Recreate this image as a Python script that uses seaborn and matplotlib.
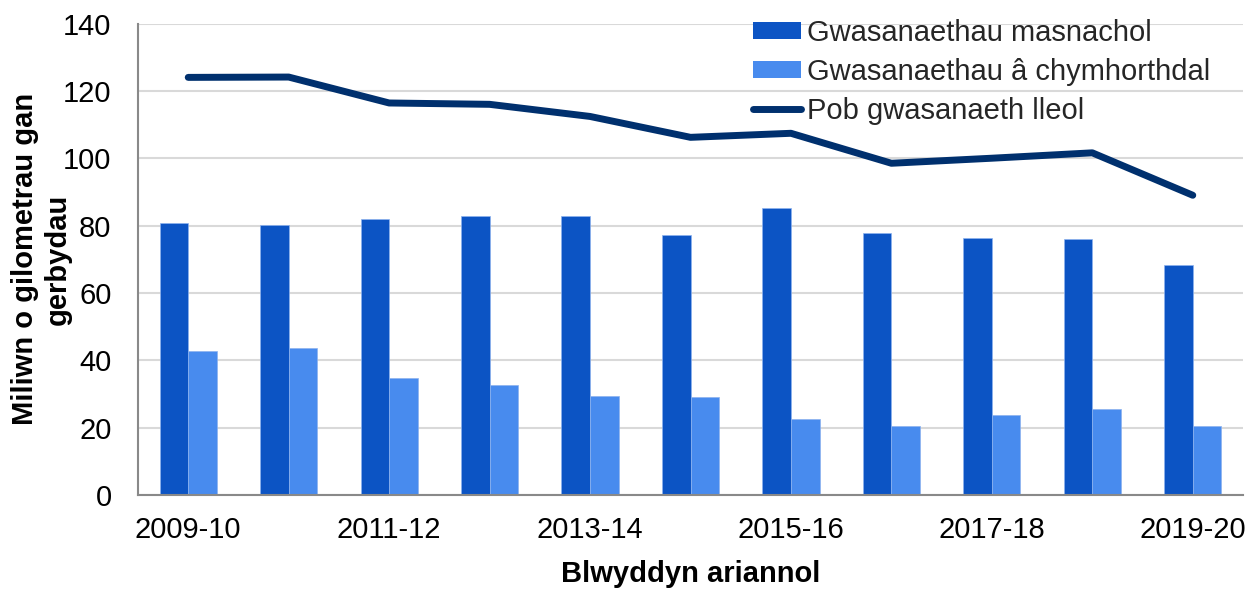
import numpy as np
import pandas as pd
import matplotlib
matplotlib.use("Agg")
import matplotlib.pyplot as plt
import seaborn as sns
from matplotlib.patches import Patch
from matplotlib.lines import Line2D

years = ["2009-10", "2010-11", "2011-12", "2012-13", "2013-14", "2014-15",
         "2015-16", "2016-17", "2017-18", "2018-19", "2019-20"]
commercial = [80.9, 80.1, 82.0, 82.8, 82.8, 77.1, 85.1, 77.7, 76.2, 75.9, 68.2]
subsidised = [42.8, 43.5, 34.7, 32.8, 29.4, 29.0, 22.5, 20.6, 23.7, 25.5, 20.6]
all_local = [124.0, 124.1, 116.4, 116.0, 112.4, 106.2, 107.4, 98.5, 100.0, 101.6, 89.0]

series_names = ["Gwasanaethau masnachol", "Gwasanaethau \u00e2 chymhorthdal", "Pob gwasanaeth lleol"]
y_ticks = [0, 20, 40, 60, 80, 100, 120, 140]
x_label = "Blwyddyn ariannol"
y_label = "Miliwn o gilometrau gan\ngerbydau"

dark = "#0C54C4"
light = "#488BEE"
navy = "#00306E"
grey = "#898989"

df = pd.DataFrame({
    "year": years * 2,
    "value": commercial + subsidised,
    "series": [series_names[0]] * len(years) + [series_names[1]] * len(years),
})

sns.set_theme(style="white")
plt.rcParams["font.family"] = ["Liberation Sans", "DejaVu Sans"]

fig = plt.figure(figsize=(12.6, 5.89), dpi=100)
ax = fig.add_axes([138 / 1260, 1 - 495 / 589, (1243 - 138) / 1260, (495 - 23.5) / 589])

sns.barplot(data=df, x="year", y="value", hue="series", order=years,
            hue_order=series_names[:2], palette=[dark, light], width=0.57,
            gap=0, edgecolor="#8DB2EE", linewidth=0.5, legend=False, ax=ax,
            saturation=1)
sns.lineplot(x=np.arange(len(years)), y=all_local, color=navy, linewidth=5,
             solid_capstyle="round", ax=ax, legend=False)

ax.set_xlim(-0.5, len(years) - 0.5)
ax.set_ylim(0, 140)
ax.set_yticks(y_ticks)
ax.set_yticklabels([str(v) for v in y_ticks])

ax.set_xticks(np.arange(-0.5, len(years), 1))
ax.set_xticklabels([""] * len(np.arange(-0.5, len(years), 1)))
ax.set_xticks(np.arange(0, len(years), 2), minor=True)
ax.set_xticklabels(years[::2], minor=True)

ax.tick_params(axis="x", which="major", length=7, width=1.5, color=grey, direction="out")
ax.tick_params(axis="x", which="minor", length=0, pad=15, labelsize=21, colors="black")
ax.tick_params(axis="y", which="major", length=7, width=1.5, color=grey, direction="out",
               pad=12, labelsize=21, labelcolor="black")

ax.yaxis.grid(True, color="#D9D9D9", linewidth=1.5)
ax.xaxis.grid(False)
ax.set_axisbelow(True)
for s in ["top", "right"]:
    ax.spines[s].set_visible(False)
for s in ["left", "bottom"]:
    ax.spines[s].set_color(grey)
    ax.spines[s].set_linewidth(1.5)

ax.set_xlabel(x_label, fontsize=21, fontweight="bold", color="black")
ax.xaxis.set_label_coords(0.5, -0.138)
ax.set_ylabel(y_label, fontsize=21, fontweight="bold", color="black", linespacing=1.2)
ax.yaxis.set_label_coords(-0.06, 0.5)

handles = [Patch(facecolor=dark, edgecolor="none"),
           Patch(facecolor=light, edgecolor="none"),
           Line2D([0], [0], color=navy, linewidth=5, solid_capstyle="round")]
leg = ax.legend(handles, series_names, loc="upper left",
                bbox_to_anchor=(753 / 1260, 1 - 19 / 589),
                bbox_transform=fig.transFigure, frameon=False, fontsize=21,
                borderpad=0, borderaxespad=0, handlelength=1.66,
                handleheight=0.5, handletextpad=0.2, labelspacing=0.37)

fig.savefig("out.png", dpi=100)
